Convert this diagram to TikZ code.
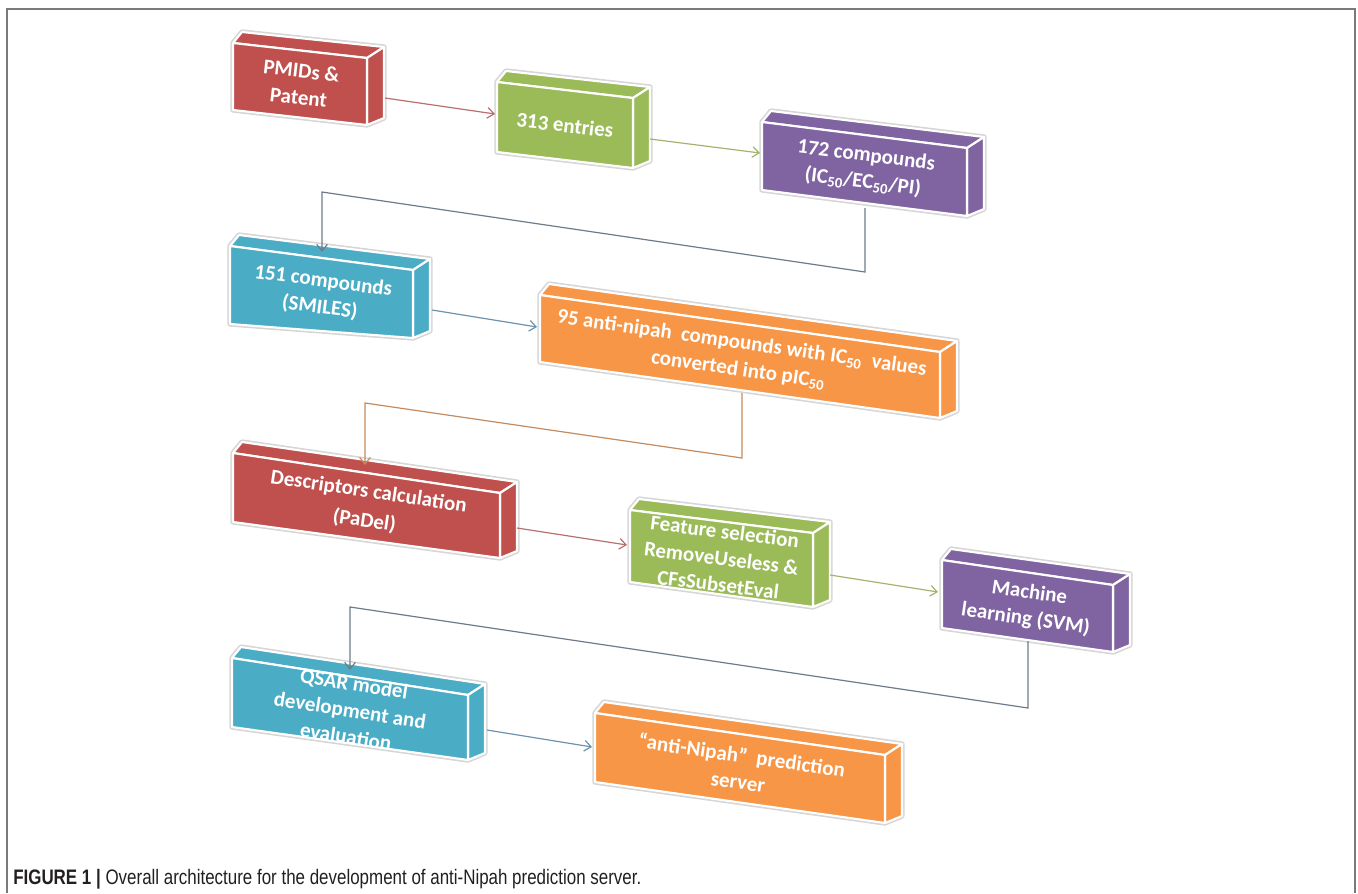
\documentclass[tikz,border=0pt]{standalone}
\usepackage{graphicx}
\usepackage{fontspec}
\setmainfont{Carlito}
\newfontfamily\capfont{Liberation Sans}
\usetikzlibrary{arrows.meta,calc}
\definecolor{cRed}{HTML}{C0504D}
\definecolor{cGreen}{HTML}{9BBB59}
\definecolor{cPurple}{HTML}{8064A2}
\definecolor{cAqua}{HTML}{4BACC6}
\definecolor{cOrange}{HTML}{F79646}
\definecolor{lnRed}{HTML}{B8706E}
\definecolor{lnGreen}{HTML}{A3B46E}
\definecolor{lnSlate}{HTML}{6E7B88}
\definecolor{lnBlue}{HTML}{6C93AE}
\definecolor{lnBrown}{HTML}{C58A5E}
\definecolor{frameGray}{HTML}{7A7A7A}
\definecolor{capText}{HTML}{231F20}

\newcommand{\cubebox}[9]{%
  \coordinate (#1-tl) at (#2,#3);
  \coordinate (#1-tr) at ({#2+#4},{#3+#5});
  \coordinate (#1-br) at ({#2+#4},{#3+#5+#7});
  \coordinate (#1-bl) at (#2,{#3+#6});
  \coordinate (#1-ktl) at ({#2+9},{#3-11});
  \coordinate (#1-ktr) at ({#2+#4+17},{#3+#5-11});
  \coordinate (#1-kbr) at ({#2+#4+17},{#3+#5+#7-7});
  \path[glow] (#1-tl) -- (#1-ktl) -- (#1-ktr) -- (#1-kbr) -- (#1-br) -- (#1-bl) -- cycle;
  \path[face=#8] (#1-tl) -- (#1-ktl) -- (#1-ktr) -- (#1-tr) -- cycle;
  \path[face=#8] (#1-tr) -- (#1-ktr) -- (#1-kbr) -- (#1-br) -- cycle;
  \path[face=#8] (#1-tl) -- (#1-tr) -- (#1-br) -- (#1-bl) -- cycle;
  \node[boxtext, rotate={-atan(#5/#4)}] (#1) at ({#2+#4/2},{#3+#5/2+(#6+#7)/4}) {#9};
}

\begin{document}
\begin{tikzpicture}[x=0.75pt,y=-0.75pt,
  boxtext/.style={text=white, align=center, inner sep=0pt,
    font=\bfseries\fontsize{15.75}{20}\selectfont},
  face/.style={fill=#1, draw=white, line width=1.6pt, line join=round},
  glow/.style={draw=black!16, line width=4pt, line join=round},
  conn/.style={line width=0.9pt, draw=#1,
    -{Straight Barb[length=5pt,width=8pt,line width=0.9pt]}},
  frame/.style={draw=frameGray, line width=1.6pt}]
\useasboundingbox (0,0) rectangle (1358,893);

% frame
\draw[frame] (7,893) -- (7,9) -- (1355,9) -- (1355,893);

% boxes: name, x, y, width, drop, left height, right height, colour, text
\cubebox{b1}{233}{43}{134}{15}{67}{67}{cRed}{PMIDs \&\\Patent}
\cubebox{b2}{497}{82}{136}{16}{70}{70}{cGreen}{313 entries}
\cubebox{b3}{762}{122}{205}{26}{68}{68}{cPurple}{172 compounds\\(IC\textsubscript{50}/EC\textsubscript{50}/PI)}
\cubebox{b4}{230}{246}{183}{24}{78}{68}{cAqua}{151 compounds\\(SMILES)}
\cubebox{b5}{540}{295}{400}{57}{67}{66}{cOrange}{95 anti-nipah\ \ compounds with IC\textsubscript{50}\ \ values\\converted into pIC\textsubscript{50}}
\cubebox{b6}{233}{453}{267}{40}{69}{65}{cRed}{Descriptors calculation\\[2pt](PaDel)}
\cubebox{b7}{630}{510}{183}{23}{72}{74}{cGreen}{Feature selection\\RemoveUseless \&\\CFsSubsetEval}
\cubebox{b8}{942}{560}{171}{25}{68}{67}{cPurple}{Machine\\learning (SVM)}
\cubebox{b9}{232}{658}{236}{37}{69}{65}{cAqua}{QSAR model\\development and\\evaluation}
\cubebox{b10}{595}{713}{290}{42}{69}{68}{cOrange}{“anti-Nipah”\ \ prediction\\server}

% connector end points
\coordinate (c12a) at (385,98);   \coordinate (c12b) at (495,114);
\coordinate (c23a) at (650,139);  \coordinate (c23b) at (760,153);
\coordinate (c34a) at (865,208);  \coordinate (c34k) at (865,272);
\coordinate (c34l) at (322,192);  \coordinate (c34b) at (322,252);
\coordinate (c45a) at (432,310);  \coordinate (c45b) at (537,327);
\coordinate (c56a) at (742,393);  \coordinate (c56k) at (742,458);
\coordinate (c56l) at (365,403);  \coordinate (c56b) at (365,465);
\coordinate (c67a) at (517,528);  \coordinate (c67b) at (627,545);
\coordinate (c78a) at (830,575);  \coordinate (c78b) at (938,592);
\coordinate (c89a) at (1028,641); \coordinate (c89k) at (1028,708);
\coordinate (c89l) at (350,607);  \coordinate (c89b) at (350,670);
\coordinate (c910a) at (487,730); \coordinate (c910b) at (592,747);

\draw[conn=lnRed] (c12a) -- (c12b);
\draw[conn=lnGreen] (c23a) -- (c23b);
\draw[conn=lnSlate] (c34a) -- (c34k) -- (c34l) -- (c34b);
\draw[conn=lnBlue] (c45a) -- (c45b);
\draw[conn=lnBrown] (c56a) -- (c56k) -- (c56l) -- (c56b);
\draw[conn=lnRed] (c67a) -- (c67b);
\draw[conn=lnGreen] (c78a) -- (c78b);
\draw[conn=lnSlate] (c89a) -- (c89k) -- (c89l) -- (c89b);
\draw[conn=lnBlue] (c910a) -- (c910b);

% caption
\node[anchor=base west, inner sep=0pt, text=capText] (caption) at (13,884)
  {\resizebox{471pt}{11.4pt}{\capfont\textbf{FIGURE 1 |} Overall architecture for the development of anti-Nipah prediction server.}};
\end{tikzpicture}
\end{document}
